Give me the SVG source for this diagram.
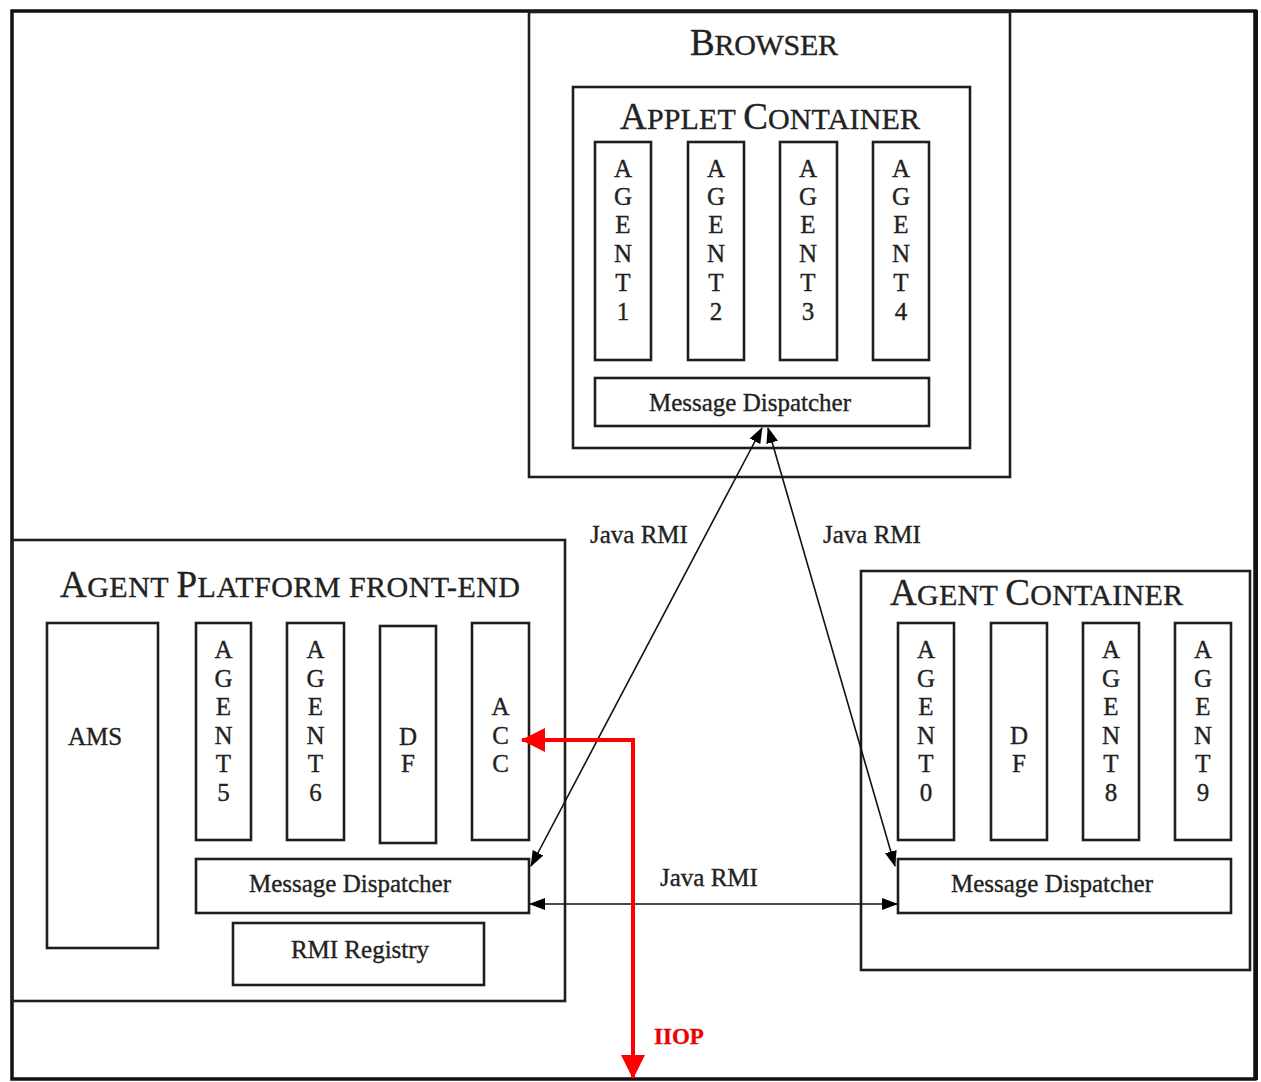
<svg xmlns="http://www.w3.org/2000/svg" width="1261" height="1082" viewBox="0 0 1261 1082">
<style>
.box{fill:none;stroke:#1e1e1e;stroke-width:2.6}
.t{font-family:"Liberation Serif","Times New Roman",serif;fill:#222;font-size:25px;stroke:#222;stroke-width:0.35}
.c{text-anchor:middle}
.big{font-size:37px}
.sm{font-size:30px}
.conn{stroke:#111;stroke-width:1.6;fill:none}
.red{stroke:#f00;stroke-width:4;fill:none}
</style>
<defs>
<marker id="ah" markerUnits="userSpaceOnUse" markerWidth="16" markerHeight="12" refX="15" refY="6" orient="auto-start-reverse" viewBox="0 0 16 12">
<path d="M0,0 L16,6 L0,12 Z" fill="#000"/>
</marker>
<marker id="rh" markerUnits="userSpaceOnUse" markerWidth="24" markerHeight="24" refX="23" refY="12" orient="auto-start-reverse" viewBox="0 0 24 24">
<path d="M0,0 L24,12 L0,24 Z" fill="#f00"/>
</marker>
</defs>
<rect width="1261" height="1082" fill="#fff"/>
<rect id="frame" x="12" y="11" width="1243" height="1068" fill="none" stroke="#111" stroke-width="3.5"/>
<line x1="1256" y1="10" x2="1256" y2="1080" stroke="#111" stroke-width="4"/>

<g id="browser">
<rect class="box" x="529" y="12" width="481" height="465"/>
<text class="t" x="690" y="55" textLength="148" lengthAdjust="spacing"><tspan class="big">B</tspan><tspan class="sm">ROWSER</tspan></text>
</g>
<g id="applet-container">
<rect class="box" x="573" y="87" width="397" height="361"/>
<text class="t" x="620" y="129" textLength="300" lengthAdjust="spacing"><tspan class="big">A</tspan><tspan class="sm">PPLET </tspan><tspan class="big">C</tspan><tspan class="sm">ONTAINER</tspan></text>
</g>
<g id="agent1">
<rect class="box" x="595" y="142" width="56" height="218"/>
<text class="t c"><tspan x="623" y="177">A</tspan><tspan x="623" y="205">G</tspan><tspan x="623" y="233">E</tspan><tspan x="623" y="262">N</tspan><tspan x="623" y="291">T</tspan><tspan x="623" y="320">1</tspan></text>
</g>
<g id="agent2">
<rect class="box" x="688" y="142" width="56" height="218"/>
<text class="t c"><tspan x="716" y="177">A</tspan><tspan x="716" y="205">G</tspan><tspan x="716" y="233">E</tspan><tspan x="716" y="262">N</tspan><tspan x="716" y="291">T</tspan><tspan x="716" y="320">2</tspan></text>
</g>
<g id="agent3">
<rect class="box" x="780" y="142" width="57" height="218"/>
<text class="t c"><tspan x="808" y="177">A</tspan><tspan x="808" y="205">G</tspan><tspan x="808" y="233">E</tspan><tspan x="808" y="262">N</tspan><tspan x="808" y="291">T</tspan><tspan x="808" y="320">3</tspan></text>
</g>
<g id="agent4">
<rect class="box" x="873" y="142" width="56" height="218"/>
<text class="t c"><tspan x="901" y="177">A</tspan><tspan x="901" y="205">G</tspan><tspan x="901" y="233">E</tspan><tspan x="901" y="262">N</tspan><tspan x="901" y="291">T</tspan><tspan x="901" y="320">4</tspan></text>
</g>
<g id="browser-md">
<rect class="box" x="595" y="378" width="334" height="48"/>
<text class="t c" x="750" y="411">Message Dispatcher</text>
</g>

<g id="platform">
<rect class="box" x="12" y="540" width="553" height="461"/>
<text class="t" x="60" y="597" textLength="460" lengthAdjust="spacing"><tspan class="big">A</tspan><tspan class="sm">GENT </tspan><tspan class="big">P</tspan><tspan class="sm">LATFORM FRONT-END</tspan></text>
</g>
<g id="ams">
<rect class="box" x="47" y="623" width="111" height="325"/>
<text class="t c" x="95" y="745">AMS</text>
</g>
<g id="agent5">
<rect class="box" x="196" y="623" width="55" height="217"/>
<text class="t c"><tspan x="223.5" y="658">A</tspan><tspan x="223.5" y="687">G</tspan><tspan x="223.5" y="715">E</tspan><tspan x="223.5" y="744">N</tspan><tspan x="223.5" y="772">T</tspan><tspan x="223.5" y="801">5</tspan></text>
</g>
<g id="agent6">
<rect class="box" x="287" y="623" width="57" height="217"/>
<text class="t c"><tspan x="315.5" y="658">A</tspan><tspan x="315.5" y="687">G</tspan><tspan x="315.5" y="715">E</tspan><tspan x="315.5" y="744">N</tspan><tspan x="315.5" y="772">T</tspan><tspan x="315.5" y="801">6</tspan></text>
</g>
<g id="df-platform">
<rect class="box" x="380" y="626" width="56" height="217"/>
<text class="t c"><tspan x="408" y="745">D</tspan><tspan x="408" y="772">F</tspan></text>
</g>
<g id="acc">
<rect class="box" x="472" y="623" width="57" height="217"/>
<text class="t c"><tspan x="500.5" y="715">A</tspan><tspan x="500.5" y="744">C</tspan><tspan x="500.5" y="772">C</tspan></text>
</g>
<g id="platform-md">
<rect class="box" x="196" y="859" width="333" height="54"/>
<text class="t c" x="350" y="892">Message Dispatcher</text>
</g>
<g id="rmi-registry">
<rect class="box" x="233" y="923" width="251" height="62"/>
<text class="t c" x="360" y="958">RMI Registry</text>
</g>

<g id="agent-container">
<rect class="box" x="861" y="571" width="389" height="399"/>
<text class="t" x="890" y="605" textLength="293" lengthAdjust="spacing"><tspan class="big">A</tspan><tspan class="sm">GENT </tspan><tspan class="big">C</tspan><tspan class="sm">ONTAINER</tspan></text>
</g>
<g id="agent0">
<rect class="box" x="898" y="623" width="56" height="217"/>
<text class="t c"><tspan x="926" y="658">A</tspan><tspan x="926" y="687">G</tspan><tspan x="926" y="715">E</tspan><tspan x="926" y="744">N</tspan><tspan x="926" y="772">T</tspan><tspan x="926" y="801">0</tspan></text>
</g>
<g id="df-container">
<rect class="box" x="991" y="623" width="56" height="217"/>
<text class="t c"><tspan x="1019" y="744">D</tspan><tspan x="1019" y="772">F</tspan></text>
</g>
<g id="agent8">
<rect class="box" x="1083" y="623" width="56" height="217"/>
<text class="t c"><tspan x="1111" y="658">A</tspan><tspan x="1111" y="687">G</tspan><tspan x="1111" y="715">E</tspan><tspan x="1111" y="744">N</tspan><tspan x="1111" y="772">T</tspan><tspan x="1111" y="801">8</tspan></text>
</g>
<g id="agent9">
<rect class="box" x="1175" y="623" width="56" height="217"/>
<text class="t c"><tspan x="1203" y="658">A</tspan><tspan x="1203" y="687">G</tspan><tspan x="1203" y="715">E</tspan><tspan x="1203" y="744">N</tspan><tspan x="1203" y="772">T</tspan><tspan x="1203" y="801">9</tspan></text>
</g>
<g id="container-md">
<rect class="box" x="898" y="859" width="333" height="54"/>
<text class="t c" x="1052" y="892">Message Dispatcher</text>
</g>

<g id="connectors">
<line class="conn" x1="762" y1="428" x2="531" y2="866" marker-start="url(#ah)" marker-end="url(#ah)"/>
<line class="conn" x1="768" y1="428" x2="895" y2="866" marker-start="url(#ah)" marker-end="url(#ah)"/>
<line class="conn" x1="530" y1="904" x2="897" y2="904" marker-start="url(#ah)" marker-end="url(#ah)"/>
<path class="red" d="M633,1078 L633,740 L522,740" marker-start="url(#rh)" marker-end="url(#rh)"/>
<text class="t" x="590" y="543">Java RMI</text>
<text class="t" x="823" y="543">Java RMI</text>
<text class="t" x="660" y="886">Java RMI</text>
<text class="t" x="654" y="1044" style="fill:#e00;stroke:#e00;stroke-width:0.3;font-weight:bold;font-size:23px">IIOP</text>
</g>
</svg>
